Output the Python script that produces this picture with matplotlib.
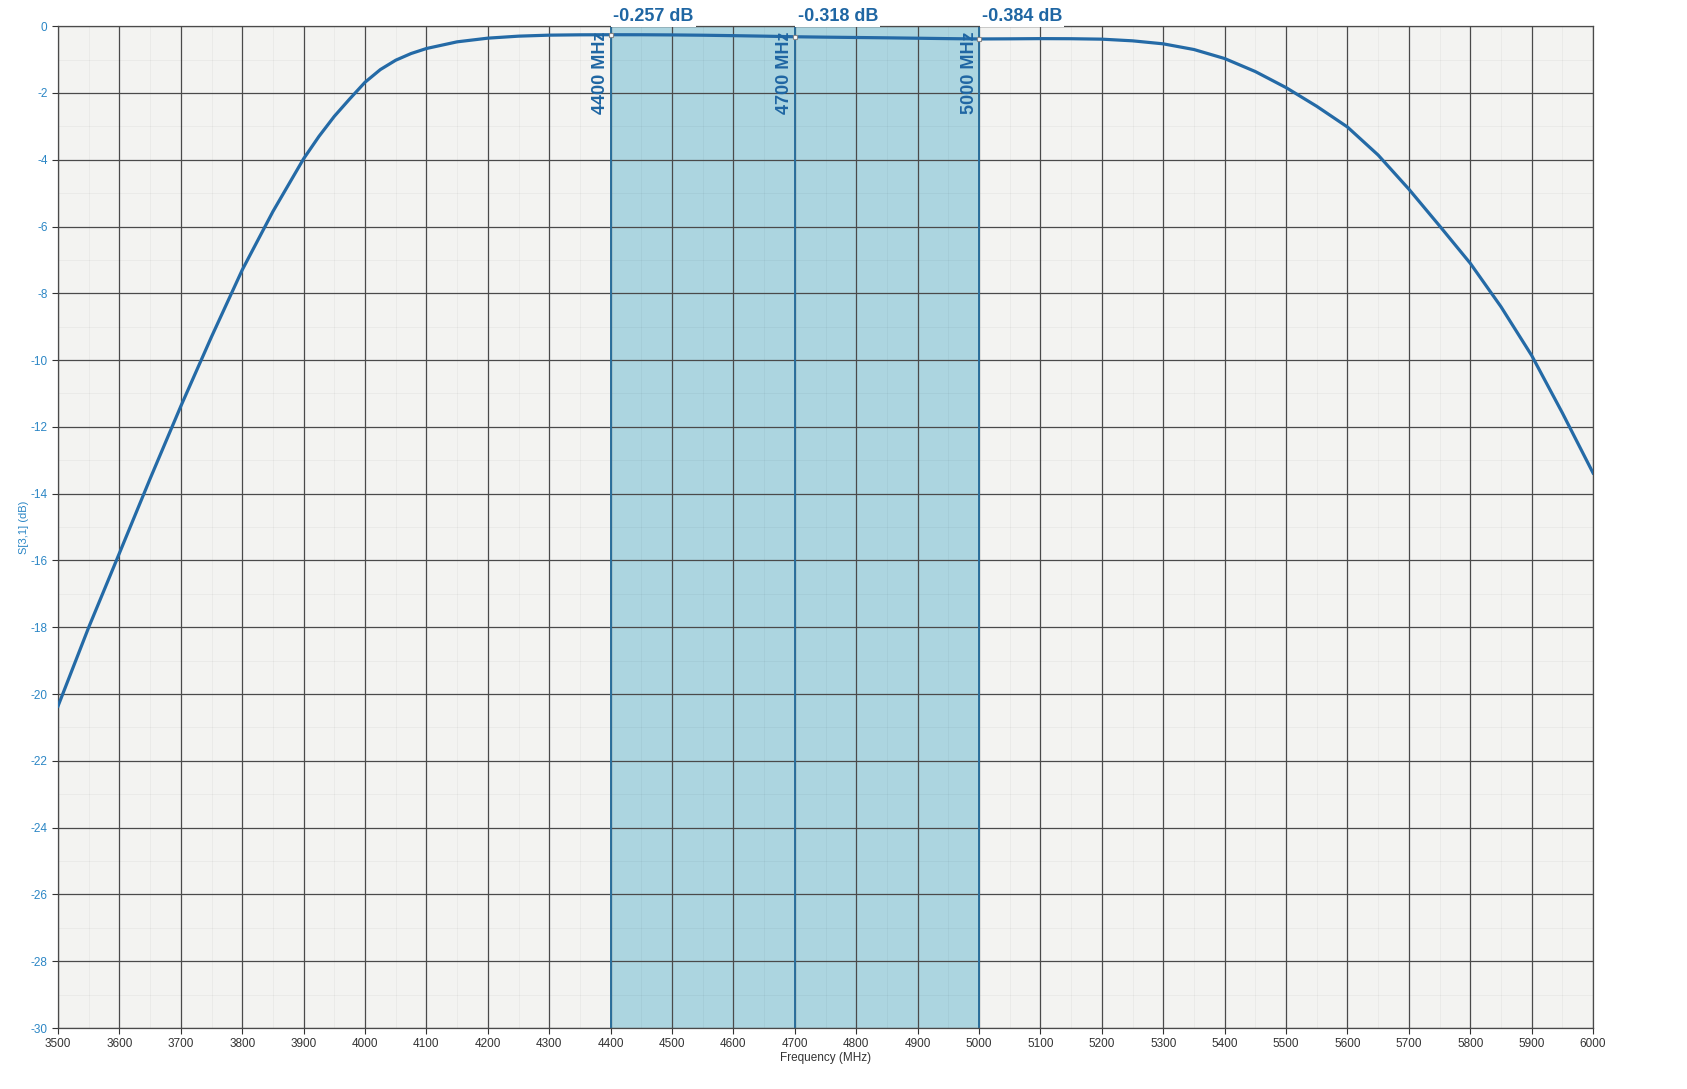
import numpy as np
import matplotlib
matplotlib.use("Agg")
import matplotlib.pyplot as plt
from matplotlib.ticker import MultipleLocator
import matplotlib.transforms as mtransforms

plt.rcParams["font.family"] = ["Liberation Sans", "DejaVu Sans"]
plt.rcParams["axes.unicode_minus"] = False

# S[3,1] response
freq = [3500, 3550, 3600, 3650, 3700, 3750, 3800, 3850, 3900, 3925, 3950, 3975,
        4000, 4025, 4050, 4075, 4100, 4150, 4200, 4250, 4300, 4350, 4400, 4450,
        4500, 4550, 4600, 4650, 4700, 4750, 4800, 4850, 4900, 4950, 5000, 5050,
        5100, 5150, 5200, 5250, 5300, 5350, 5400, 5450, 5500, 5550, 5600, 5650,
        5700, 5750, 5800, 5850, 5900, 5950, 6000]
s31 = [-20.36, -18.0, -15.78, -13.55, -11.38, -9.3, -7.3, -5.55, -3.97, -3.3,
       -2.7, -2.18, -1.68, -1.3, -1.02, -0.82, -0.67, -0.47, -0.36, -0.3,
       -0.27, -0.26, -0.257, -0.258, -0.263, -0.272, -0.285, -0.3, -0.318,
       -0.33, -0.34, -0.35, -0.362, -0.374, -0.384, -0.38, -0.374, -0.377,
       -0.39, -0.44, -0.53, -0.7, -0.97, -1.36, -1.84, -2.4, -3.02, -3.86,
       -4.88, -5.98, -7.1, -8.4, -9.86, -11.58, -13.38]

markers_f = [4400, 4700, 5000]
markers_db = [-0.257, -0.318, -0.384]
band = (4400, 5000)

C_LINE = "#246aa6"
C_MARK = "#2a6e9c"
C_TXT = "#1f66a3"
C_TICK = "#2b86c5"

fig = plt.figure(figsize=(16.87, 10.89), dpi=100)
ax = fig.add_axes([0.0344, 0.056, 0.9099, 0.920])
ax.set_facecolor("#f3f3f1")

ax.axvspan(band[0], band[1], color="#acd5e0", zorder=0.4, lw=0)

ax.plot(freq, s31, color=C_LINE, lw=2.3, zorder=3)

for f, db in zip(markers_f, markers_db):
    ax.axvline(f, color=C_MARK, lw=1.4, zorder=2)
    ax.plot(f, db, "s", ms=3.5, mfc="white", mec="#888", mew=0.8, zorder=4)
    off_r = mtransforms.offset_copy(ax.transData, fig=fig, x=2, y=1, units="points")
    ax.text(f, 0, f"{db:.3f} dB", transform=off_r, ha="left", va="bottom",
            fontsize=13, fontweight="bold", color=C_TXT, clip_on=False, zorder=5,
            family=["Liberation Sans Narrow", "Liberation Sans", "DejaVu Sans"],
            bbox=dict(boxstyle="square,pad=0.12", fc="white", ec="none"))
    off_v = mtransforms.offset_copy(ax.transData, fig=fig, x=-1, y=-4, units="points")
    ax.text(f, 0, f"{f} MHz", transform=off_v, rotation=90, ha="right", va="top",
            fontsize=13, fontweight="bold", color=C_TXT, zorder=5,
            family=["Liberation Sans Narrow", "Liberation Sans", "DejaVu Sans"])

ax.set_xlim(3500, 6000)
ax.set_ylim(-30, 0)
ax.xaxis.set_major_locator(MultipleLocator(100))
ax.yaxis.set_major_locator(MultipleLocator(2))
ax.xaxis.set_minor_locator(MultipleLocator(50))
ax.yaxis.set_minor_locator(MultipleLocator(1))
ax.set_axisbelow(True)
ax.grid(which="major", color="#4a4a4a", lw=0.9)
ax.grid(which="minor", color="#000000", alpha=0.045, lw=0.6)

ax.tick_params(axis="x", which="major", labelsize=8.5, colors="#333333",
               length=4, width=0.8)
ax.tick_params(axis="y", which="major", labelsize=8.5, labelcolor=C_TICK,
               color="#333333", length=4, width=0.8)
ax.tick_params(which="minor", length=0)
for sp in ax.spines.values():
    sp.set_color("#4a4a4a")
    sp.set_linewidth(0.9)

ax.set_xlabel("Frequency (MHz)", fontsize=8.5, color="#333333")
ax.xaxis.set_label_coords(0.5, -0.024)
ax.set_ylabel("S[3,1] (dB)", fontsize=8, color=C_TICK)
ax.yaxis.set_label_coords(-0.019, 0.5)

fig.savefig("out.png", dpi=100, facecolor="white")
